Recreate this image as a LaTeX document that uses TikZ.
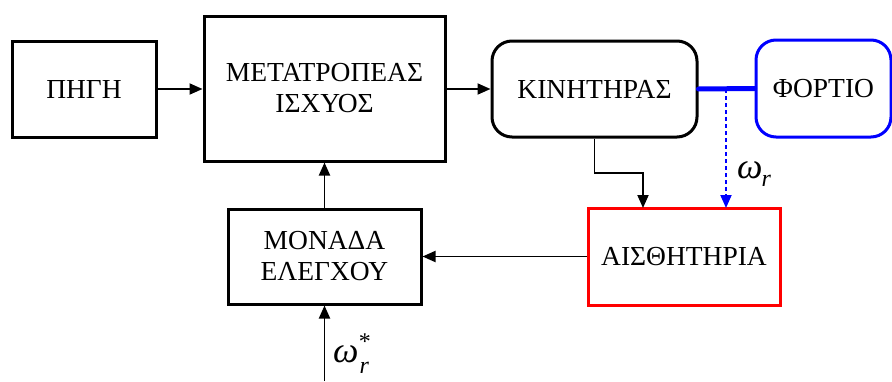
\documentclass[tikz,border=0pt]{standalone}
\usepackage{fontspec}
\setmainfont{Liberation Serif}
\usetikzlibrary{arrows.meta}
\begin{document}
\begin{tikzpicture}[x=1pt,y=-1pt,
  blk/.style={draw,line width=3pt,rectangle,align=center,inner sep=0pt,
    font=\fontsize{27.5}{31}\selectfont},
  conn/.style={line width=1.9pt,-{Stealth[length=13pt,width=11pt,inset=0pt]}},
  lbl/.style={font=\fontsize{36}{40}\selectfont\itshape,inner sep=0pt}]
\useasboundingbox (0,0) rectangle (892,381);
\node[blk,minimum width=144pt,minimum height=96pt] (pigi) at (84,89) {ΠΗΓΗ};
\node[blk,minimum width=241pt,minimum height=145pt] (met) at (324.5,88.5) {ΜΕΤΑΤΡΟΠΕΑΣ\\ΙΣΧΥΟΣ};
\node[blk,rounded corners=20pt,minimum width=205pt,minimum height=96pt] (kin) at (594.5,89) {ΚΙΝΗΤΗΡΑΣ};
\node[blk,draw=blue,rounded corners=20pt,minimum width=135pt,minimum height=97pt] (fort) at (823.5,88.5) {ΦΟΡΤΙΟ};
\node[blk,minimum width=193pt,minimum height=95pt] (mon) at (324.5,256.5) {ΜΟΝΑΔΑ\\ΕΛΕΓΧΟΥ};
\node[blk,draw=red,minimum width=192pt,minimum height=97pt] (ais) at (684,256.5) {ΑΙΣΘΗΤΗΡΙΑ};
\draw[conn] (pigi.east) -- (met.west |- pigi.east);
\draw[conn] (met.east |- kin.west) -- (kin.west);
\draw[blue,line width=5pt,line cap=round] (kin.east) -- (fort.west);
\coordinate (sh) at (726,89);
\coordinate (sd) at (726,208);
\draw[conn,blue,dashed,dash pattern=on 4pt off 3pt] (sh) -- (sd);
\coordinate (kd) at (594.5,173);
\coordinate (ad) at (643,208);
\draw[conn] (kin.south) -- (kd) -| (ad);
\draw[conn] (ais.west) -- (mon.east |- ais.west);
\draw[conn] (mon.north) -- (met.south);
\coordinate (in) at (324.5,381);
\draw[conn] (in) -- (mon.south);
\node[lbl,anchor=west] (wr) at (737,174) {ω\kern-1pt\raisebox{-8pt}{\fontsize{24}{26}\selectfont r}};
\node[lbl,anchor=west] (wrs) at (333,354) {ω\kern1pt\raisebox{-11pt}{\fontsize{24}{26}\selectfont r}\kern-10pt\raisebox{13pt}{\fontsize{24}{26}\selectfont\upshape *}};
\end{tikzpicture}
\end{document}
